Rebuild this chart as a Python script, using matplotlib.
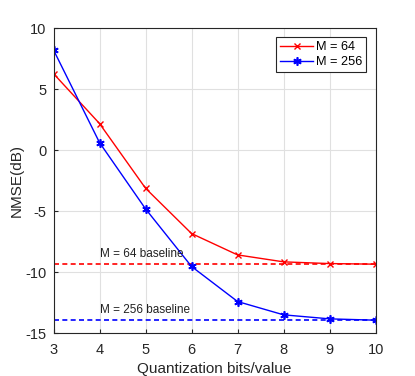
import matplotlib
matplotlib.use("Agg")
import matplotlib.pyplot as plt

plt.rcParams['font.family'] = ['Liberation Sans', 'DejaVu Sans']
plt.rcParams['axes.unicode_minus'] = False

bits = [3, 4, 5, 6, 7, 8, 9, 10]
nmse_m64 = [6.26, 2.17, -3.13, -6.84, -8.59, -9.16, -9.30, -9.35]
nmse_m256 = [8.2, 0.61, -4.82, -9.54, -12.41, -13.5, -13.83, -13.94]
baseline_m64 = -9.35
baseline_m256 = -13.94

fig = plt.figure(figsize=(4.15, 3.76), dpi=100)
ax = fig.add_axes([0.129, 0.114, 0.776, 0.8115])

ax.axhline(baseline_m64, color='red', linestyle=(0, (3, 2)), linewidth=1.2)
ax.axhline(baseline_m256, color='blue', linestyle=(0, (3, 2)), linewidth=1.2)
ax.plot(bits, nmse_m64, color='red', marker='x', markersize=5, linewidth=1.0, label='M = 64')
ax.plot(bits, nmse_m256, color='blue', marker=(6, 2, 0), markersize=6, markeredgewidth=1.2,
        linewidth=1.0, label='M = 256')

ax.text(4, baseline_m64 + 0.35, 'M = 64 baseline', fontsize=8.5, color='#222222', va='bottom')
ax.text(4, baseline_m256 + 0.35, 'M = 256 baseline', fontsize=8.5, color='#222222', va='bottom')

ax.set_xlim(3, 10)
ax.set_ylim(-15, 10)
ax.set_xticks(bits)
ax.set_yticks([-15, -10, -5, 0, 5, 10])
ax.grid(True, color='#e0e0e0', linewidth=0.8)
ax.set_axisbelow(True)
ax.tick_params(direction='in', labelsize=10.5, colors='#262626', length=3)
ax.tick_params(axis='x', pad=7)
ax.tick_params(axis='y', pad=5)
for s in ax.spines.values():
    s.set_color('#262626')
    s.set_linewidth(0.8)
ax.set_xlabel('Quantization bits/value', fontsize=11, color='#262626', labelpad=4)
ax.set_ylabel('NMSE(dB)', fontsize=11, color='#262626', labelpad=1)

leg = ax.legend(loc='upper right', fontsize=9.2, fancybox=False, edgecolor='#262626',
                framealpha=1, borderpad=0.3, handlelength=2.6, handletextpad=0.2,
                labelspacing=0.25, borderaxespad=0, bbox_to_anchor=(0.970, 0.970))
leg.get_frame().set_linewidth(0.8)

fig.savefig('out.png', dpi=100)
